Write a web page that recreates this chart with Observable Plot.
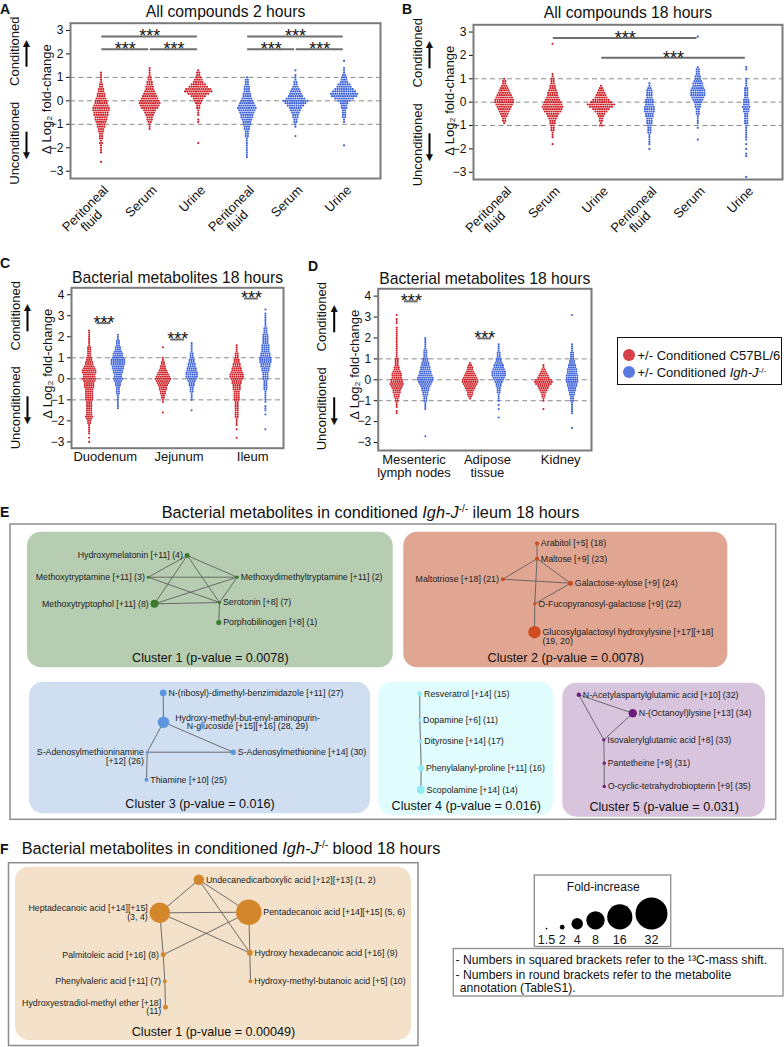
<!DOCTYPE html>
<html><head><meta charset="utf-8">
<script src="https://cdn.jsdelivr.net/npm/d3@7"></script>
<script src="https://cdn.jsdelivr.net/npm/@observablehq/plot@0.6"></script>
<style>
body{margin:0;background:#fff;}
#fig{position:relative;width:784px;height:1047px;overflow:hidden;font-family:"Liberation Sans",Arial,Helvetica,sans-serif;color:#111;}
.abs{position:absolute;white-space:nowrap;}
.letter{font-weight:bold;font-size:14px;line-height:14px;}
.ttl{font-size:16.3px;line-height:16.3px;}
sup{font-size:0.62em;vertical-align:0.55em;line-height:0;}
</style></head><body><div id="fig"></div><script>
const FONT = '"Liberation Sans", Arial, Helvetica, sans-serif';
// ---------------- data: beeswarm panels (hi = top 0.1-row value, n = dots per row going down) -------------
const genotypes = ["C57BL/6", "Igh-J-/-"];
const genotypeColors = {"C57BL/6": "#d01f27", "Igh-J-/-": "#3d62da"};
const compartments = ["Peritoneal fluid", "Serum", "Urine"];
const compartmentLines = {"Peritoneal fluid": ["Peritoneal", "fluid"], "Serum": ["Serum"], "Urine": ["Urine"]};
const yTicksAB = [-3, -2, -1, 0, 1, 2, 3];
const yTicksCD = [-3, -2, -1, 0, 1, 2, 3, 4];
const guideValues = [-1, 0, 1];

const allCompounds2h = [
  {genotype: "C57BL/6", compartment: "Peritoneal fluid", hi: 1.2, n: [1,1,1,1,1,2,2,3,3,4,4,5,6,6,7,8,8,7,7,6,6,5,4,4,3,3,2,2,2,1,2,1,1,1,1,0,0,0,1]},
  {genotype: "C57BL/6", compartment: "Serum", hi: 1.4, n: [1,1,1,1,2,2,3,3,4,4,5,6,7,8,9,10,9,8,6,5,4,3,3,2,1,1,1]},
  {genotype: "C57BL/6", compartment: "Urine", hi: 1.3, n: [1,2,2,3,4,5,7,9,12,13,10,7,5,4,3,2,2,1,1,1,0,1,1,0,0,0,0,0,0,0,0,1]},
  {genotype: "Igh-J-/-", compartment: "Peritoneal fluid", hi: 1.0, n: [1,2,2,2,3,3,3,4,4,5,6,7,8,9,8,7,6,6,5,4,4,3,3,2,2,2,1,1,1,1,1,1,1,1,1]},
  {genotype: "Igh-J-/-", compartment: "Serum", hi: 1.3, n: [1,0,1,1,1,2,2,3,4,5,6,7,9,12,10,8,6,5,4,3,3,2,2,1,1,0,0,0,1]},
  {genotype: "Igh-J-/-", compartment: "Urine", hi: 1.7, n: [1,0,0,1,1,1,2,3,3,4,6,7,9,11,13,12,9,6,4,3,3,2,2,2,2,1,1,0,0,0,0,0,0,0,0,0,1]}
];
const allCompounds18h = [
  {genotype: "C57BL/6", compartment: "Peritoneal fluid", hi: 1.0, n: [1,2,2,3,4,5,6,7,8,9,9,8,7,6,5,4,3,2,2,1]},
  {genotype: "C57BL/6", compartment: "Serum", hi: 2.5, n: [1,0,0,0,0,0,0,0,0,0,0,0,0,1,1,2,2,2,3,3,4,5,5,6,7,8,9,10,9,8,6,5,4,3,3,2,2,2,1,1,1,0,0,1]},
  {genotype: "C57BL/6", compartment: "Urine", hi: 0.7, n: [1,2,3,4,5,6,8,10,13,11,8,6,4,3,2,2,1,2]},
  {genotype: "Igh-J-/-", compartment: "Peritoneal fluid", hi: 0.8, n: [1,1,2,3,3,3,3,4,4,4,5,5,5,4,4,3,3,3,2,2,2,2,1,1,1,1,1,0,1]},
  {genotype: "Igh-J-/-", compartment: "Serum", hi: 2.8, n: [1,0,0,0,0,0,0,0,0,0,0,0,0,1,2,2,2,3,3,4,5,5,6,7,7,7,6,5,4,3,3,2,2,2,1,1,1,1,0,1,0,0,0,0,1]},
  {genotype: "Igh-J-/-", compartment: "Urine", hi: 1.5, n: [1,1,0,0,0,1,1,1,1,2,2,2,2,2,3,3,3,4,3,3,2,2,2,2,2,1,1,1,1,1,1,1,0,1,0,1,0,1,1,0,0,0,0,0,0,0,0,1]}
];
const sigA = [{from: 0, to: 2, y: 2.74}, {from: 0, to: 1, y: 2.2}, {from: 1, to: 2, y: 2.2},
              {from: 3, to: 5, y: 2.74}, {from: 3, to: 4, y: 2.2}, {from: 4, to: 5, y: 2.2}];
const sigB = [{from: 1, to: 4, y: 2.74}, {from: 2, to: 5, y: 1.9}];

const gutTissues = ["Duodenum", "Jejunum", "Ileum"];
const systemicTissues = ["Mesenteric\nlymph nodes", "Adipose\ntissue", "Kidney"];
const bacterialGut18h = [
  {genotype: "C57BL/6", tissue: "Duodenum", hi: 2.3, n: [1,1,1,1,1,1,1,1,2,2,2,2,2,3,3,4,4,5,6,7,7,6,6,7,6,5,5,5,4,4,4,4,4,4,3,3,3,3,3,3,3,4,3,2,2,1,1,1,1,1,0,1,0,1]},
  {genotype: "Igh-J-/-", tissue: "Duodenum", hi: 2.1, n: [1,1,1,2,2,2,3,3,4,5,5,6,7,7,7,6,6,5,5,4,4,5,4,3,3,2,2,2,2,1,1,1,1,1,1,1]},
  {genotype: "C57BL/6", tissue: "Jejunum", hi: 1.5, n: [1,0,0,0,0,1,1,2,2,3,3,4,5,6,7,8,7,6,5,4,4,3,3,2,2,1,1,0,0,0,0,1]},
  {genotype: "Igh-J-/-", tissue: "Jejunum", hi: 1.7, n: [1,1,1,1,1,2,2,2,3,3,4,4,5,5,6,6,6,5,4,3,3,2,2,2,1,1,1,1,0,0,0,0,1]},
  {genotype: "C57BL/6", tissue: "Ileum", hi: 1.6, n: [1,1,1,1,2,2,2,3,3,4,4,5,5,6,7,7,6,5,5,4,4,4,3,3,3,3,3,2,2,2,2,2,2,2,2,1,1,1,1,0,1,0,0,0,1]},
  {genotype: "Igh-J-/-", tissue: "Ileum", hi: 3.3, n: [1,0,1,1,1,1,1,1,1,2,2,2,3,3,3,3,3,4,4,4,4,5,5,6,6,6,5,5,4,4,3,3,3,3,2,2,2,2,2,1,1,1,1,1,1,0,1,1,1,0,1,0,0,0,0,0,0,1]}
];
const bacterialSystemic18h = [
  {genotype: "C57BL/6", tissue: "Mesenteric\nlymph nodes", hi: 3.1, n: [1,0,1,1,1,0,1,1,1,1,1,1,1,1,1,1,1,1,1,1,1,2,2,2,2,3,3,4,5,5,5,6,6,7,6,5,4,4,3,3,2,2,1,1,1,0,1,1]},
  {genotype: "Igh-J-/-", tissue: "Mesenteric\nlymph nodes", hi: 2.0, n: [1,1,1,1,1,1,2,2,2,2,3,3,4,4,5,5,6,6,7,8,8,7,6,5,4,4,3,3,2,2,2,1,1,1,1,0,0,0,0,0,0,0,0,0,0,0,0,1]},
  {genotype: "C57BL/6", tissue: "Adipose\ntissue", hi: 0.8, n: [1,2,3,3,4,5,6,7,8,8,7,6,5,4,3,3,2,1]},
  {genotype: "Igh-J-/-", tissue: "Adipose\ntissue", hi: 1.7, n: [1,1,1,1,2,2,2,3,3,4,5,5,6,7,7,7,6,5,4,3,3,2,2,2,1,1,1,1,0,1,0,1,0,0,0,1]},
  {genotype: "C57BL/6", tissue: "Kidney", hi: 0.7, n: [1,1,2,3,4,5,6,8,9,8,6,5,4,3,2,2,1,1,0,0,0,1]},
  {genotype: "Igh-J-/-", tissue: "Kidney", hi: 3.1, n: [1,0,0,0,0,0,0,0,0,0,0,0,0,0,1,1,1,1,2,2,2,2,3,3,4,4,5,5,5,6,6,6,6,5,5,4,4,3,3,2,2,2,1,1,1,1,1,1,0,0,0,0,0,0,1]}
];
const sigC = [{tissue: "Duodenum", y: 2.65}, {tissue: "Jejunum", y: 1.87}, {tissue: "Ileum", y: 3.82}];
const sigD = [{tissue: "Mesenteric\nlymph nodes", y: 3.75}, {tissue: "Adipose\ntissue", y: 1.98}];

// ---------------- data: networks ----------------
const clusterNamesE = ["Cluster 1 (p-value = 0.0078)", "Cluster 2 (p-value = 0.0078)", "Cluster 3 (p-value = 0.016)", "Cluster 4 (p-value = 0.016)", "Cluster 5 (p-value = 0.031)"];
const nodesE = [
  {id: "hmel", cluster: 0, fold: 2.07, label: "Hydroxymelatonin [+11] (4)"},
  {id: "mtam", cluster: 0, fold: 1.7, label: "Methoxytryptamine [+11] (3)"},
  {id: "mdmt", cluster: 0, fold: 1.75, label: "Methoxydimethyltryptamine [+11] (2)"},
  {id: "mtph", cluster: 0, fold: 2.8, label: "Methoxytryptophol [+11] (8)"},
  {id: "sero", cluster: 0, fold: 1.75, label: "Serotonin [+8] (7)"},
  {id: "porp", cluster: 0, fold: 2.1, label: "Porphobilinogen [+8] (1)"},
  {id: "arab", cluster: 1, fold: 1.9, label: "Arabitol [+5] (18)"},
  {id: "malt", cluster: 1, fold: 1.9, label: "Maltose [+9] (23)"},
  {id: "mtri", cluster: 1, fold: 1.9, label: "Maltotriose [+18] (21)"},
  {id: "galx", cluster: 1, fold: 2.1, label: "Galactose-xylose [+9] (24)"},
  {id: "fuco", cluster: 1, fold: 1.75, label: "O-Fucopyranosyl-galactose [+9] (22)"},
  {id: "gluc", cluster: 1, fold: 4.4, label: "Glucosylgalactosyl hydroxylysine [+17][+18]\n(19, 20)"},
  {id: "ribo", cluster: 2, fold: 2.5, label: "N-(ribosyl)-dimethyl-benzimidazole [+11] (27)"},
  {id: "hmba", cluster: 2, fold: 4.0, label: "Hydroxy-methyl-but-enyl-aminopurin-\nN-glucoside [+15][+16] (28, 29)"},
  {id: "samn", cluster: 2, fold: 1.7, label: "S-Adenosylmethioninamine\n[+12] (26)"},
  {id: "same", cluster: 2, fold: 2.2, label: "S-Adenosylmethionine [+14] (30)"},
  {id: "thia", cluster: 2, fold: 1.87, label: "Thiamine [+10] (25)"},
  {id: "resv", cluster: 3, fold: 2.07, label: "Resveratrol [+14] (15)"},
  {id: "dopa", cluster: 3, fold: 1.7, label: "Dopamine [+6] (11)"},
  {id: "dity", cluster: 3, fold: 1.87, label: "Dityrosine [+14] (17)"},
  {id: "phep", cluster: 3, fold: 2.28, label: "Phenylalanyl-proline [+11] (16)"},
  {id: "scop", cluster: 3, fold: 2.8, label: "Scopolamine [+14] (14)"},
  {id: "naag", cluster: 4, fold: 1.95, label: "N-Acetylaspartylglutamic acid [+10] (32)"},
  {id: "octl", cluster: 4, fold: 2.9, label: "N-(Octanoyl)lysine [+13] (34)"},
  {id: "isov", cluster: 4, fold: 1.75, label: "Isovalerylglutamic acid [+8] (33)"},
  {id: "pant", cluster: 4, fold: 1.75, label: "Pantetheine [+9] (31)"},
  {id: "ocyc", cluster: 4, fold: 1.75, label: "O-cyclic-tetrahydrobiopterin [+9] (35)"}
];
const edgesE = [
  ["hmel","mtam"],["hmel","mdmt"],["hmel","mtph"],["hmel","sero"],["mtam","mdmt"],["mtam","sero"],
  ["mdmt","mtph"],["mdmt","sero"],["mtph","sero"],["sero","porp"],
  ["arab","malt"],["malt","mtri"],["malt","galx"],["malt","fuco"],["mtri","galx"],["galx","fuco"],["fuco","gluc"],
  ["ribo","hmba"],["hmba","samn"],["hmba","same"],["samn","same"],["samn","thia"],
  ["resv","dopa"],["dopa","dity"],["dity","phep"],["phep","scop"],
  ["naag","octl"],["naag","isov"],["octl","isov"],["isov","pant"],["pant","ocyc"]
];
const clusterNameF = "Cluster 1 (p-value = 0.00049)";
const nodesF = [
  {id: "unde", fold: 3.65, label: "Undecanedicarboxylic acid [+12][+13] (1, 2)"},
  {id: "hept", fold: 10, label: "Heptadecanoic acid [+14][+15]\n(3, 4)"},
  {id: "pent", fold: 16.5, label: "Pentadecanoic acid [+14][+15] (5, 6)"},
  {id: "palm", fold: 2.07, label: "Palmitoleic acid [+16] (8)"},
  {id: "hhex", fold: 2.28, label: "Hydroxy hexadecanoic acid [+16] (9)"},
  {id: "phev", fold: 1.87, label: "Phenylvaleric acid [+11] (7)"},
  {id: "hmbu", fold: 1.87, label: "Hydroxy-methyl-butanoic acid [+5] (10)"},
  {id: "hest", fold: 2.07, label: "Hydroxyestradiol-methyl ether [+18]\n(11)"}
];
const edgesF = [["unde","hept"],["unde","pent"],["unde","hhex"],["hept","pent"],["hept","hhex"],["hept","palm"],
  ["pent","palm"],["pent","hhex"],["palm","phev"],["phev","hest"],["hhex","hmbu"]];
const foldLegendValues = [1.5, 2, 4, 8, 16, 32];
const notes = ["- Numbers in squared brackets refer to the ¹³C-mass shift.", "- Numbers in round brackets refer to the metabolite", "annotation (TableS1)."];

// ---------------- layout (positions) & styles ----------------
const clusterBoxesE = [
  {x1: 27, x2: 392.7, y1: 531.7, y2: 667.3}, {x1: 403.3, x2: 727.3, y1: 531.7, y2: 667.3},
  {x1: 29, x2: 370, y1: 681.7, y2: 813.3}, {x1: 378.3, x2: 553.3, y1: 681.7, y2: 815},
  {x1: 562.3, x2: 765, y1: 682.7, y2: 816.7}];
const clusterFillE = ["#b6cdb1", "#e1a692", "#cfdff1", "#e0fcfd", "#d9c4de"];
const clusterNodeE = ["#3c7b2d", "#cf4c22", "#5d95e0", "#8eecf4", "#6c1b7d"];
const layoutE = {
  hmel: {x: 186.7, y: 555, side: -1}, mtam: {x: 147.7, y: 576.7, side: -1}, mdmt: {x: 236.7, y: 576.7, side: 1},
  mtph: {x: 154, y: 603.3, side: -1}, sero: {x: 219, y: 602, side: 1}, porp: {x: 218.3, y: 622, side: 1},
  arab: {x: 536.5, y: 543, side: 1}, malt: {x: 536.5, y: 558.3, side: 1}, mtri: {x: 502.3, y: 578.7, side: -1},
  galx: {x: 570, y: 582.7, side: 1}, fuco: {x: 534.3, y: 603.3, side: 1}, gluc: {x: 534, y: 631.7, side: 1, first: true},
  ribo: {x: 162.7, y: 692.3, side: 1}, hmba: {x: 163, y: 721.7, side: 0, lx: 247}, samn: {x: 146.7, y: 751.7, side: -1, first: true},
  same: {x: 232.7, y: 751.7, side: 1}, thia: {x: 146, y: 779.3, side: 1},
  resv: {x: 419.3, y: 693.3, side: 1}, dopa: {x: 419.3, y: 719.3, side: 1}, dity: {x: 420, y: 740.7, side: 1},
  phep: {x: 420.7, y: 767.7, side: 1}, scop: {x: 420.3, y: 789.3, side: 1},
  naag: {x: 578.3, y: 694.3, side: 1}, octl: {x: 632.3, y: 712.7, side: 1}, isov: {x: 603.3, y: 739.3, side: 1},
  pant: {x: 603.7, y: 762.7, side: 1}, ocyc: {x: 603.7, y: 786, side: 1}};
const layoutF = {
  unde: {x: 198.3, y: 879.3, side: 1}, hept: {x: 159.3, y: 912.3, side: -1}, pent: {x: 248.3, y: 911.7, side: 1},
  palm: {x: 162.7, y: 954.3, side: -1}, hhex: {x: 249.3, y: 952.3, side: 1}, phev: {x: 164.3, y: 980.7, side: -1},
  hmbu: {x: 250, y: 980.7, side: 1}, hest: {x: 165, y: 1006.7, side: -1}};
const foldLegendX = [546, 561.7, 576.7, 595, 619.3, 651];
const notesLayout = [{x: 455, y: 960}, {x: 455, y: 975}, {x: 459.3, y: 988}];

const rOpts = {type: "log", domain: [1.25, 32], range: [0, 16]};
const rScale = Plot.scale({r: rOpts});
const fig = document.getElementById("fig");
function place(el, left, top) { el.style.position = "absolute"; el.style.left = left + "px"; el.style.top = top + "px"; fig.appendChild(el); }
function html(h, left, top, cls) { const d = document.createElement("div"); d.className = "abs " + (cls || ""); d.innerHTML = h; place(d, left, top); return d; }
const fmtTick = d => (d < 0 ? "\u2212" : "") + Math.abs(d);

// ---------------- beeswarm panel builder ----------------
function swarm(series, posOf, pxPerUnit, stepPx) {
  const pts = [];
  for (const s of series) {
    const c = posOf(s);
    s.n.forEach((k, i) => {
      const v = +(s.hi - i * 0.1).toFixed(2);
      for (let j = 0; j < k; j++) pts.push({x: c + (j - (k - 1) / 2) * stepPx / pxPerUnit, y: v, fill: genotypeColors[s.genotype]});
    });
  }
  return pts;
}
function panel(o) {
  const fw = o.width - o.marginLeft - o.marginRight;
  const fh = o.height - o.marginTop - o.marginBottom;
  const ppu = fw / (o.xDomain[1] - o.xDomain[0]);
  const pts = swarm(o.series, o.posOf, ppu, o.stepPx);
  const [ylo, yhi] = o.yDomain;
  const yAt = off => yhi - off * (yhi - ylo) / fh;
  const xl = o.xDomain[0];
  const lab = {frameAnchor: "top-left", rotate: -90, fontSize: 13, text: d => d, textAnchor: "middle", lineAnchor: "middle"};
  const tri = {frameAnchor: "top-left", fontSize: 12, text: d => d, textAnchor: "middle", lineAnchor: "middle", dx: -44};
  return Plot.plot({
    width: o.width, height: o.height,
    marginLeft: o.marginLeft, marginRight: o.marginRight, marginTop: o.marginTop, marginBottom: o.marginBottom,
    x: {domain: o.xDomain, axis: null},
    y: {domain: o.yDomain, ticks: o.yTicks, tickFormat: fmtTick, tickSize: 4, tickPadding: 3, label: null},
    color: {type: "identity"},
    style: {fontFamily: FONT, fontSize: "12px", color: "#111", background: "transparent", overflow: "visible"},
    marks: [
      Plot.ruleY(guideValues, {stroke: "#8a8a8a", strokeWidth: 1, strokeDasharray: "5,3.5"}),
      Plot.dot(pts, {x: "x", y: "y", r: o.r, fill: "fill"}),
      Plot.ruleY(o.sig, {y: "y", x1: "x1", x2: "x2", stroke: "#6f6f6f", strokeWidth: 2, insetLeft: 0.8, insetRight: 0.8}),
      Plot.text(o.sig, {x: d => (d.x1 + d.x2) / 2, y: "y", text: () => "***", fontSize: 18, lineAnchor: "bottom", dy: 5.8, fill: "#111"}),
      Plot.frame({stroke: "#7b7b7b", strokeWidth: 2}),
      Plot.text([o.title], {frameAnchor: "top", lineAnchor: "middle", dy: o.titleDy, fontSize: 15.7, text: d => d}),
      Plot.text(["Conditioned"], {...lab, dx: -56, dy: 28}),
      Plot.text(["Unconditioned"], {...lab, dx: -56, dy: 120}),
      Plot.text(["Δ Log₂ fold-change"], {...lab, dx: -23.5, dy: 76}),
      Plot.link([0], {x1: () => xl, x2: () => xl, y1: () => yAt(43.5), y2: () => yAt(21), dx: -44, stroke: "#000", strokeWidth: 2}),
      Plot.link([0], {x1: () => xl, x2: () => xl, y1: () => yAt(108.5), y2: () => yAt(130), dx: -44, stroke: "#000", strokeWidth: 2}),
      Plot.text(["▲"], {...tri, dy: 19.5}),
      Plot.text(["▼"], {...tri, dy: 132}),
      ...o.xLabels
    ]
  });
}

// ---- A & B
const catsAB = genotypes.flatMap((g, gi) => compartments.map((c, ci) => ({pos: gi * 3 + ci, lines: compartmentLines[c]})));
const posAB = s => genotypes.indexOf(s.genotype) * 3 + compartments.indexOf(s.compartment);
const xLabelsAB = [
  Plot.text(catsAB, {x: "pos", text: d => d.lines[0], frameAnchor: "bottom", rotate: -45, textAnchor: "end", lineAnchor: "middle", dx: 5, dy: 9.5, fontSize: 13}),
  Plot.text(catsAB.filter(d => d.lines[1]), {x: "pos", text: d => d.lines[1], frameAnchor: "bottom", rotate: -45, textAnchor: "end", lineAnchor: "middle", dx: -1, dy: 34, fontSize: 13})
];
const sigRows = sig => sig.map(d => ({x1: d.from, x2: d.to, y: d.y}));
place(panel({title: "All compounds 2 hours", series: allCompounds2h, posOf: posAB, sig: sigRows(sigA),
  width: 392, height: 250, marginLeft: 70, marginRight: 12, marginTop: 22.7, marginBottom: 72,
  xDomain: [-0.628, 5.75], yDomain: [-3.31, 3.31], yTicks: yTicksAB, stepPx: 2.2, r: 1.1, titleDy: -11.5, xLabels: xLabelsAB}), 0, 0);
place(panel({title: "All compounds 18 hours", series: allCompounds18h, posOf: posAB, sig: sigRows(sigB),
  width: 392, height: 250, marginLeft: 81, marginRight: 2, marginTop: 24.3, marginBottom: 71,
  xDomain: [-0.634, 5.75], yDomain: [-3.31, 3.31], yTicks: yTicksAB, stepPx: 2.2, r: 1.1, titleDy: -12, xLabels: xLabelsAB}), 392, 0);

// ---- C & D
function pairPanel(title, tissues, series, sig, geom) {
  const posOf = s => tissues.indexOf(s.tissue) + (s.genotype === genotypes[0] ? -0.195 : 0.195);
  const cats = tissues.map((t, i) => ({pos: i, label: t}));
  return panel({title, series, posOf, sig: sig.map(d => ({x1: tissues.indexOf(d.tissue) - 0.1, x2: tissues.indexOf(d.tissue) + 0.11, y: d.y})),
    ...geom, yTicks: yTicksCD, stepPx: 2.1, r: 1.05, titleDy: -10,
    xLabels: [Plot.text(cats, {x: "pos", text: "label", frameAnchor: "bottom", lineAnchor: "top", dy: 4, dx: geom.labelDx, fontSize: 13})]});
}
place(pairPanel("Bacterial metabolites 18 hours", gutTissues, bacterialGut18h, sigC,
  {width: 292, height: 218, marginLeft: 71, marginRight: 9, marginTop: 25.3, marginBottom: 32.3, xDomain: [-0.434, 2.44], yDomain: [-3.3, 4.33], labelDx: 1.7}), 0, 262);
place(pairPanel("Bacterial metabolites 18 hours", systemicTissues, bacterialSystemic18h, sigD,
  {width: 300, height: 222, marginLeft: 77.7, marginRight: 9, marginTop: 26.3, marginBottom: 34, xDomain: [-0.447, 2.46], yDomain: [-3.38, 4.35], labelDx: 3}), 300, 262);

// panel letters
html("A", 0, 2, "letter"); html("B", 402, 2, "letter"); html("C", 0, 256, "letter"); html("D", 308, 259, "letter");
html("E", 0, 504.5, "letter"); html("F", 0, 841.5, "letter");

// color legend
const leg = document.createElement("div");
leg.style.cssText = "width:165.5px;height:48px;border:1.5px solid #111;box-sizing:border-box;font-size:13px;";
const legRows = [{g: genotypes[0], html: "+/- Conditioned C57BL/6", top: 10.5}, {g: genotypes[1], html: "+/- Conditioned <i>Igh-J</i><sup>-/-</sup>", top: 28}];
for (const r of legRows) {
  const row = document.createElement("div");
  row.style.cssText = `position:absolute;left:5px;top:${r.top}px;height:13px;line-height:13px;white-space:nowrap;`;
  row.innerHTML = `<span style="display:inline-block;width:12px;height:12px;border-radius:50%;background:${genotypeColors[r.g]};opacity:0.85;vertical-align:-1px;margin-right:3px"></span>${r.html}`;
  leg.appendChild(row);
}
place(leg, 616.5, 337);

// ---------------- networks ----------------
const LBL = 8.8;
function nodeRows(nodes, layout, colorOf) {
  return nodes.map(d => ({...d, ...layout[d.id], color: colorOf(d)}));
}
function labelMarks(rows) {
  const out = [];
  const mk = d => ({
    text: d.label,
    x: d.side === 0 ? d.lx : d.x + d.side * (rScale.apply(d.fold) + 1.8),
    y: d.y + (d.first ? (d.label.split("\n").length - 1) * LBL / 2 : 0)});
  for (const [side, anchor] of [[-1, "end"], [1, "start"], [0, "middle"]]) {
    out.push(Plot.text(rows.filter(d => d.side === side).map(mk), {x: "x", y: "y", text: "text", textAnchor: anchor, lineAnchor: "middle", fontSize: LBL, fill: "#222"}));
  }
  return out;
}
function linkRows(edges, byId) { return edges.map(([a, b]) => ({x1: byId[a].x, y1: byId[a].y, x2: byId[b].x, y2: byId[b].y})); }

// ---- E
const rowsE = nodeRows(nodesE, layoutE, d => clusterNodeE[d.cluster]);
const byIdE = Object.fromEntries(rowsE.map(d => [d.id, d]));
const clustersE = clusterNamesE.map((name, i) => ({name, ...clusterBoxesE[i], fill: clusterFillE[i]}));
const plotE = Plot.plot({
  width: 784, height: 302, margin: 0,
  x: {domain: [0, 784], range: [0, 784], axis: null},
  y: {domain: [520, 822], range: [0, 302], axis: null},
  r: rOpts, color: {type: "identity"},
  style: {fontFamily: FONT, background: "transparent", overflow: "visible"},
  marks: [
    Plot.rect([{x1: 10, x2: 775.7, y1: 524, y2: 819.3}], {x1: "x1", x2: "x2", y1: "y1", y2: "y2", fill: "none", stroke: "#8d8d8d", strokeWidth: 1.5}),
    Plot.rect(clustersE, {x1: "x1", x2: "x2", y1: "y1", y2: "y2", fill: "fill", rx: 14}),
    Plot.link(linkRows(edgesE, byIdE), {x1: "x1", y1: "y1", x2: "x2", y2: "y2", stroke: "#5f5f5f", strokeWidth: 0.9}),
    Plot.dot(rowsE, {x: "x", y: "y", r: "fold", fill: "color"}),
    ...labelMarks(rowsE),
    Plot.text(clustersE, {x: d => (d.x1 + d.x2) / 2, y: d => d.y2 - 10, text: "name", fontSize: 12.6, fill: "#111"})
  ]
});
place(plotE, 0, 520);
html('Bacterial metabolites in conditioned <i>Igh-J</i><sup>-/-</sup> ileum 18 hours', 161.7, 503.7, "ttl");

// ---- F
const rowsF = nodeRows(nodesF, layoutF, () => "#d4862a");
const byIdF = Object.fromEntries(rowsF.map(d => [d.id, d]));
const legendRows = foldLegendValues.map((f, i) => ({fold: f, x: foldLegendX[i], y: 929 - rScale.apply(f)}));
const plotF = Plot.plot({
  width: 784, height: 192, margin: 0,
  x: {domain: [0, 784], range: [0, 784], axis: null},
  y: {domain: [855, 1047], range: [0, 192], axis: null},
  r: rOpts, color: {type: "identity"},
  style: {fontFamily: FONT, background: "transparent", overflow: "visible"},
  marks: [
    Plot.rect([{x1: 8.5, x2: 418, y1: 862.7, y2: 1045.5}], {x1: "x1", x2: "x2", y1: "y1", y2: "y2", fill: "none", stroke: "#8d8d8d", strokeWidth: 1.5}),
    Plot.rect([{x1: 15, x2: 411, y1: 866.7, y2: 1040}], {x1: "x1", x2: "x2", y1: "y1", y2: "y2", fill: "#f3e1ca", rx: 14}),
    Plot.link(linkRows(edgesF, byIdF), {x1: "x1", y1: "y1", x2: "x2", y2: "y2", stroke: "#5f5f5f", strokeWidth: 0.9}),
    Plot.dot(rowsF, {x: "x", y: "y", r: "fold", fill: "color"}),
    ...labelMarks(rowsF),
    Plot.text([clusterNameF], {x: () => 213, y: () => 1031, text: d => d, fontSize: 12.6, fill: "#111"}),
    // fold-increase legend
    Plot.rect([{x1: 534.3, x2: 670.7, y1: 875, y2: 946.5}], {x1: "x1", x2: "x2", y1: "y1", y2: "y2", fill: "none", stroke: "#8d8d8d", strokeWidth: 1.3}),
    Plot.text(["Fold-increase"], {x: () => 602.7, y: () => 886.7, text: d => d, fontSize: 12, fill: "#111"}),
    Plot.dot(legendRows, {x: "x", y: "y", r: "fold", fill: "#000"}),
    Plot.text(legendRows, {x: "x", y: () => 939, text: d => String(d.fold), fontSize: 12.5, fill: "#111"}),
    // notes
    Plot.rect([{x1: 453.3, x2: 783, y1: 948.5, y2: 996}], {x1: "x1", x2: "x2", y1: "y1", y2: "y2", fill: "none", stroke: "#8d8d8d", strokeWidth: 1.3}),
    Plot.text(notes.map((t, i) => ({t, ...notesLayout[i]})), {x: "x", y: "y", text: "t", textAnchor: "start", fontSize: 12.2, fill: "#111"})
  ]
});
place(plotF, 0, 855);
html('Bacterial metabolites in conditioned <i>Igh-J</i><sup>-/-</sup> blood 18 hours', 21.7, 840.3, "ttl");
</script></body></html>
